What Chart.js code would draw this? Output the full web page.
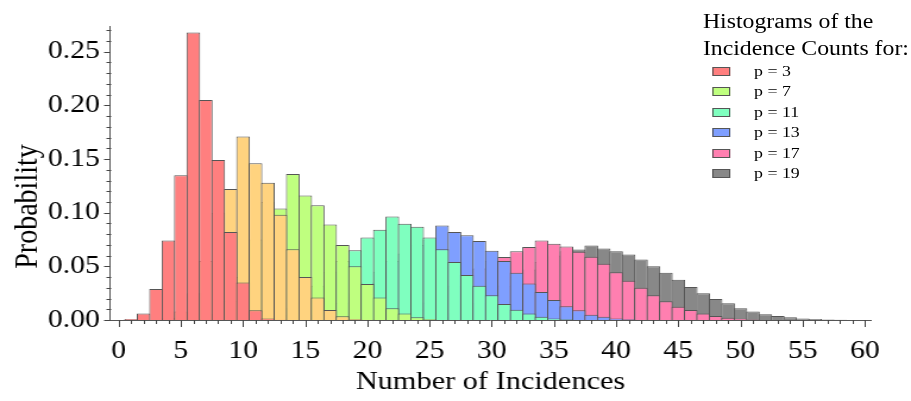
<!DOCTYPE html>
<html>
<head>
<meta charset="utf-8">
<script src="https://cdn.jsdelivr.net/npm/chart.js@4/dist/chart.umd.min.js"></script>
<style>
  html, body { margin: 0; padding: 0; background: #fff; }
  #wrap {
    position: absolute; left: 0; top: 0;
    width: 766px; height: 401px;
    transform: scaleX(1.1893); transform-origin: 0 0;
  }
  #legend {
    position: absolute; left: 591px; top: 8px;
    font-family: "Liberation Serif", "Times New Roman", serif;
    color: #000;
  }
  #legend .title { font-size: 20px; line-height: 26.7px; }
  #legend .item { display: flex; align-items: center; height: 20.4px; font-size: 15px; }
  #legend .box { width: 13px; height: 7px; margin-left: 8px; margin-right: 20px; border: 1px solid #555; }
</style>
</head>
<body>
<div id="wrap">
  <canvas id="grafico"></canvas>
  <div id="legend"></div>
</div>
<script>
// probabilidade de cada numero de incidencias, por valor de p
const labelsSeries = ["p = 3", "p = 5", "p = 7", "p = 11", "p = 13", "p = 17", "p = 19"];
const noLegenda = [true, false, true, true, true, true, true];

const p3Inicio = 1;
const p3Valores = [0.001, 0.006, 0.029, 0.074, 0.135, 0.268, 0.205, 0.149, 0.082, 0.035, 0.009, 0.0015, 0.0003];

const p5Inicio = 4;
const p5Valores = [0.002, 0.008, 0.025, 0.055, 0.1, 0.122, 0.171, 0.146, 0.128, 0.098, 0.066, 0.04, 0.021, 0.0093, 0.0034, 0.001, 0.0003];

const p7Inicio = 7;
const p7Valores = [0.001, 0.006, 0.018, 0.04, 0.075, 0.11, 0.104, 0.136, 0.116, 0.107, 0.089, 0.07, 0.05, 0.0335, 0.021, 0.011, 0.006, 0.0025, 0.001];

const p11Inicio = 12;
const p11Valores = [0.002, 0.005, 0.011, 0.02, 0.032, 0.045, 0.055, 0.065, 0.077, 0.084, 0.0965, 0.0897, 0.087, 0.077, 0.066, 0.054, 0.042, 0.032, 0.023, 0.015, 0.0096, 0.006, 0.003, 0.0015, 0.0006];

const p13Inicio = 15;
const p13Valores = [0.002, 0.005, 0.009, 0.016, 0.025, 0.035, 0.045, 0.055, 0.062, 0.07, 0.075, 0.088, 0.082, 0.079, 0.0736, 0.0646, 0.055, 0.044, 0.034, 0.026, 0.0186, 0.0127, 0.009, 0.005, 0.003, 0.0015, 0.0006];

const p17Inicio = 21;
const p17Valores = [0.001, 0.003, 0.006, 0.01, 0.016, 0.024, 0.032, 0.04, 0.048, 0.055, 0.0587, 0.064, 0.068, 0.074, 0.071, 0.0686, 0.0636, 0.059, 0.0525, 0.0444, 0.0366, 0.03, 0.023, 0.0174, 0.0124, 0.0093, 0.006, 0.0037, 0.002, 0.0012, 0.0005];

const p19Inicio = 25;
const p19Valores = [0.001, 0.003, 0.006, 0.01, 0.016, 0.024, 0.032, 0.04, 0.047, 0.054, 0.06, 0.064, 0.0658, 0.0695, 0.0667, 0.064, 0.061, 0.0565, 0.05, 0.044, 0.0376, 0.0307, 0.025, 0.0196, 0.0155, 0.011, 0.008, 0.0053, 0.0037, 0.0025, 0.0015, 0.001, 0.0004, 0.0002, 0.0001];

const inicios = [p3Inicio, p5Inicio, p7Inicio, p11Inicio, p13Inicio, p17Inicio, p19Inicio];
const valores = [p3Valores, p5Valores, p7Valores, p11Valores, p13Valores, p17Valores, p19Valores];

const cores = ["#ff7f7f", "#ffd37f", "#bfff7f", "#7fffbf", "#7f9fff", "#ff7fb0", "#888888"];
const fonte = "'Liberation Serif', 'Times New Roman', serif";

// marcas dos eixos (maiores a cada 5 em x e a cada 0.05 em y) e titulo do eixo y
const marcasEixos = {
  id: "marcasEixos",
  afterDraw(chart) {
    const { ctx, chartArea, scales } = chart;
    ctx.save();
    ctx.strokeStyle = "#444";
    ctx.lineWidth = 1;
    scales.x.ticks.forEach((t) => {
      const px = Math.round(scales.x.getPixelForValue(t.value)) + 0.5;
      const len = t.value % 5 === 0 ? 7 : 4;
      ctx.beginPath();
      ctx.moveTo(px, chartArea.bottom);
      ctx.lineTo(px, chartArea.bottom + len);
      ctx.stroke();
    });
    scales.y.ticks.forEach((t) => {
      const py = Math.round(scales.y.getPixelForValue(t.value)) + 0.5;
      const maior = Math.round(t.value * 100) % 5 === 0;
      ctx.beginPath();
      ctx.moveTo(chartArea.left - (maior ? 5 : 3), py);
      ctx.lineTo(chartArea.left + (maior ? 0 : 1), py);
      ctx.stroke();
    });

    ctx.translate(23.5, chartArea.bottom - 113.5);
    ctx.rotate(-Math.PI / 2);
    ctx.fillStyle = "#000";
    ctx.font = "28px " + fonte;
    ctx.textAlign = "center";
    ctx.textBaseline = "middle";
    ctx.fillText("Probability", 0, 0);
    ctx.restore();
  },
};

const datasets = valores.map((vals, i) => ({
  label: labelsSeries[i],
  data: vals.map((v, k) => ({ x: inicios[i] + k, y: v })),
  backgroundColor: cores[i],
  borderColor: "#555",
  borderWidth: 1,
  grouped: false,
  barPercentage: 1.1,
  categoryPercentage: 1,
}));

const chart = new Chart(document.getElementById("grafico"), {
  type: "bar",
  data: { datasets: datasets },
  options: {
    responsive: true,
    maintainAspectRatio: false,
    animation: false,
    layout: { padding: { top: 26, right: 33.6, left: 0, bottom: 0 } },
    plugins: { legend: { display: false }, tooltip: { enabled: false } },
    scales: {
      x: {
        type: "linear",
        offset: false,
        min: -0.7,
        max: 60.5,
        afterBuildTicks: (s) => {
          const ticks = [];
          for (let v = Math.ceil(s.min); v <= Math.floor(s.max); v++) ticks.push({ value: v });
          s.ticks = ticks;
        },
        afterFit: (s) => {
          s.height = 81;
        },
        grid: { display: false, drawTicks: false, offset: false },
        border: { display: true, color: "#555", width: 1 },
        ticks: {
          stepSize: 1,
          autoSkip: false,
          maxRotation: 0,
          padding: 16,
          color: "#000",
          font: { family: fonte, size: 25 },
          callback: (v) => (v % 5 === 0 ? String(v) : ""),
        },
        title: {
          display: true,
          text: "Number of Incidences",
          color: "#000",
          font: { family: fonte, size: 25.5 },
          padding: { top: 0, bottom: 3 },
        },
      },
      y: {
        min: 0,
        max: 0.274,
        afterBuildTicks: (s) => {
          const ticks = [];
          for (let k = 0; k / 100 <= s.max; k++) ticks.push({ value: k / 100 });
          s.ticks = ticks;
        },
        afterFit: (s) => {
          s.width = 92.5;
        },
        grid: { display: false, drawTicks: false },
        border: { display: true, color: "#555", width: 1 },
        ticks: {
          stepSize: 0.01,
          autoSkip: false,
          padding: 8.5,
          color: "#000",
          font: { family: fonte, size: 25 },
          callback: (v) => (Math.round(v * 100) % 5 === 0 ? v.toFixed(2) : ""),
        },
      },
    },
  },
  plugins: [marcasEixos],
});

// legenda em HTML por cima do grafico
const legenda = document.getElementById("legend");
legenda.innerHTML =
  '<div class="title">Histograms of the</div><div class="title">Incidence Counts for:</div>';
datasets.forEach((ds, i) => {
  if (!noLegenda[i]) return;
  const item = document.createElement("div");
  item.className = "item";
  item.innerHTML = `<span class="box" style="background:${cores[i]}"></span><span>${ds.label}</span>`;
  legenda.appendChild(item);
});
</script>
</body>
</html>
